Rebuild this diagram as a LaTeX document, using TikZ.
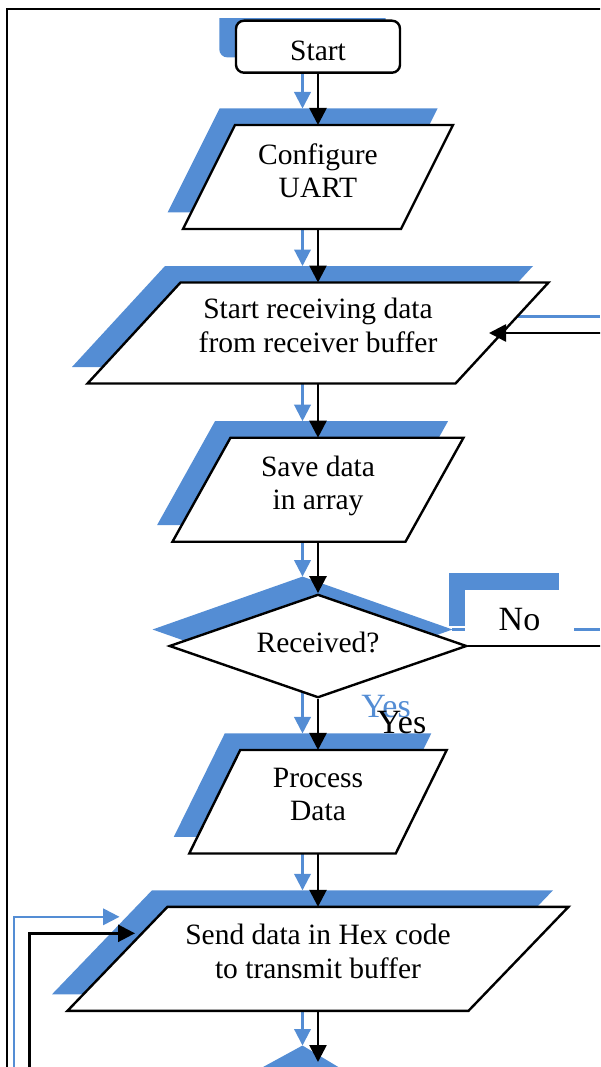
\documentclass[tikz,border=0pt]{standalone}
\usepackage{fontspec}
\setmainfont{Liberation Serif}
\usetikzlibrary{shapes.geometric,arrows.meta}

\definecolor{shadeblue}{RGB}{84,141,212}

\pgfdeclarelayer{shade}
\pgfdeclarelayer{boxes}
\pgfsetlayers{shade,boxes,main}

% slanted box over the anchors of an empty node, #2 = slant
\newcommand\slantpath[2]{([xshift=#2/2]#1.north west) -- ([xshift=#2/2]#1.north east) -- ([xshift=-#2/2]#1.south east) -- ([xshift=-#2/2]#1.south west) -- cycle}

\begin{document}
\begin{tikzpicture}[
x=1pt, y=-1pt,
txt/.style={align=center, inner sep=0pt, font=\fontsize{29.5}{33.5}\selectfont},
lbl/.style={inner sep=0pt, font=\fontsize{34}{38}\selectfont},
io/.style={inner sep=0pt, outer sep=0pt, minimum height=104pt},
box/.style={draw=black, line width=2.4pt, fill=white},
arr/.style={line width=2.6pt, -{Triangle[length=17pt,width=17pt]}},
barr/.style={shadeblue, line width=2.2pt, -{Triangle[length=16.5pt,width=16.5pt]}},
link/.style={line width=2.6pt},
blink/.style={shadeblue, line width=2.2pt}
]
\useasboundingbox (0,0) rectangle (600,1067);
\clip (0,0) rectangle (600,1067);

% frame
\draw[line width=2pt] (7.3,1080) -- (7.3,9) -- (610,9);

\node[txt, box, rounded corners=8pt, minimum width=164pt, minimum height=52pt,
  text height=28.5pt, text depth=0pt] (St) at (318,46.7) {Start};

\node[io, minimum width=218pt] (Cf) at (318,177) {};
\node[io, minimum width=368pt, minimum height=101pt] (Rx) at (318,333) {};
\node[io, minimum width=233pt] (Sv) at (318,489.7) {};
\node[io, minimum width=206.5pt, minimum height=103.5pt] (Pr) at (318,801.7) {};
\node[io, minimum width=401pt] (Tx) at (318,958.8) {};

\node[txt] (CfT) at ([yshift=6.3pt]Cf) {Configure\\UART};
\node[txt] (RxT) at ([yshift=7.5pt]Rx) {Start receiving data\\from receiver buffer};
\node[txt] (SvT) at ([yshift=3.8pt]Sv) {Save data\\in array};
\node[txt] (PrT) at ([yshift=7pt]Pr) {Process\\Data};
\node[txt] (TxT) at ([yshift=7.5pt]Tx) {Send data in Hex code\\to transmit buffer};

\node[txt, box, diamond, aspect=2.88, minimum width=297.5pt, minimum height=103.4pt,
  text height=13.4pt, text depth=0pt] (Rc) at (318,646) {Received?};

\node[lbl, fill=white, minimum width=109pt, minimum height=52pt,
  text height=29.4pt, text depth=0pt] (No) at (519.5,616) {No};
\node[lbl] (Ys) at (401.5,722.8) {Yes};

\coordinate (Nx) at (318,1062);
\coordinate (LpR) at (615,333);
\coordinate (NoR) at (615,646);
\coordinate (LpB) at (29.3,1085);

\draw[arr] (St) -- (Cf);
\draw[arr] (Cf) -- (Rx);
\draw[arr] (Rx) -- (Sv);
\draw[arr] (Sv) -- (Rc);
\draw[arr] (Rc) -- (Pr);
\draw[arr] (Pr) -- (Tx);
\draw[arr] (Tx) -- (Nx);
\draw[link] (Rc) -- (NoR);
\draw[arr, shorten >=-13pt] (LpR) -- (Rx.east);
\draw[arr] (LpB) |- ([xshift=17.5pt, yshift=25.5pt]Tx.west);

% white boxes
\begin{pgfonlayer}{boxes}
\draw[box] \slantpath{Cf}{52};
\draw[box] \slantpath{Rx}{93};
\draw[box] \slantpath{Sv}{58};
\draw[box] \slantpath{Pr}{51};
\draw[box] \slantpath{Tx}{100};
\end{pgfonlayer}

% blue offset copy
\begin{pgfonlayer}{shade}
\begin{scope}
\clip (0,19) rectangle (600,1067);
\begin{scope}[transform canvas={shift={(-15.5pt,16.5pt)}}]
\fill[shadeblue, rounded corners=8pt] (St.north west) rectangle (St.south east);
\fill[shadeblue] \slantpath{Cf}{52};
\fill[shadeblue] \slantpath{Rx}{93};
\fill[shadeblue] \slantpath{Sv}{58};
\fill[shadeblue] \slantpath{Pr}{51};
\fill[shadeblue] \slantpath{Tx}{100};
\fill[shadeblue] (Rc.north) -- (Rc.east) -- (Rc.south) -- (Rc.west) -- cycle;
\fill[shadeblue] (No.north west) rectangle (No.south east);
\fill[shadeblue] (Nx) -- ++(-55,30) -- ++(105,0) -- cycle;
\node[lbl, text=shadeblue] (YsB) at (Ys) {Yes};

\draw[barr] (St) -- (Cf);
\draw[barr] (Cf) -- (Rx);
\draw[barr] (Rx) -- (Sv);
\draw[barr] (Sv) -- (Rc);
\draw[barr] (Rc) -- (Pr);
\draw[barr] (Pr) -- (Tx);
\draw[barr] (Tx) -- (Nx);
\draw[blink] (Rc) -- (NoR);
\draw[barr, shorten >=-13pt] (LpR) -- (Rx.east);
\draw[barr] (LpB) |- ([xshift=17.5pt, yshift=25.5pt]Tx.west);
\end{scope}
\end{scope}
\end{pgfonlayer}

\end{tikzpicture}
\end{document}
